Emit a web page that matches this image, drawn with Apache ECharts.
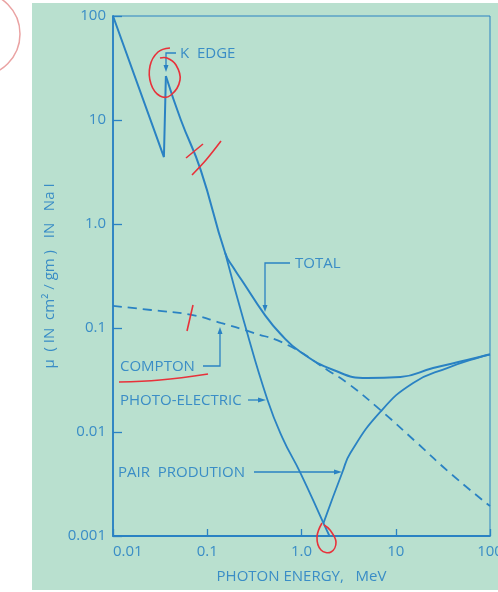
<!DOCTYPE html>
<html>
<head>
<meta charset="utf-8">
<script src="https://cdn.jsdelivr.net/npm/echarts/dist/echarts.min.js"></script>
<style>
	html, body { margin: 0; padding: 0; background: #ffffff; }
	#wrap { position: relative; width: 498px; height: 592px; overflow: hidden; }
	#paper { position: absolute; left: 32px; top: 3px; width: 466px; height: 587px; background: #b9e0cf; }
	#chart { position: absolute; left: 0; top: 0; width: 498px; height: 592px; }
</style>
</head>
<body>
<div id="wrap">
	<div id="paper"></div>
	<div id="chart"></div>
</div>
<script>
	// photon energy (MeV) and mass attenuation (cm2/gm)
	const totalEnergy = [0.01, 0.0347, 0.0364, 0.0525, 0.0853, 0.155, 0.1905, 0.243, 0.396, 0.600, 0.976, 2.18, 4.99, 11.2, 24.9, 57.1, 100];
	const totalMu = [100, 4.40, 26.5, 10.0, 3.30, 0.526, 0.377, 0.271, 0.139, 0.0875, 0.0588, 0.0395, 0.0330, 0.0338, 0.0412, 0.0492, 0.0560];

	const photoEnergy = [0.155, 0.243, 0.436, 0.630, 0.976, 1.71, 1.98];
	const photoMu = [0.526, 0.119, 0.0203, 0.00875, 0.00403, 0.00133, 0.001];

	const comptonEnergy = [0.01, 0.0253, 0.0703, 0.139, 0.288, 0.711, 1.88, 3.07, 6.85, 16.9, 37.7, 100];
	const comptonMu = [0.163, 0.149, 0.133, 0.112, 0.0916, 0.0687, 0.0395, 0.0296, 0.0163, 0.00783, 0.00403, 0.00194];

	const pairEnergy = [1.71, 2.72, 3.30, 6.85, 15.3, 35.1, 78.4, 100];
	const pairMu = [0.00133, 0.00412, 0.00628, 0.0156, 0.0296, 0.0412, 0.0526, 0.0555];

	const xTickLabels = ["0.01", "0.1", "1.0", "10", "100"];
	const yTickLabels = ["0.001", "0.01", "0.1", "1.0", "10", "100"];

	const blue = "#2a82c3";
	const textBlue = "#3a8dc6";
	const red = "#e8313a";
	const font = "'Open Sans', 'DejaVu Sans', sans-serif";

	const pairs = (xs, ys) => xs.map((x, i) => [x, ys[i]]);
	const totalData = pairs(totalEnergy, totalMu);

	const chart = echarts.init(document.getElementById("chart"), null, { renderer: "canvas" });

	// small blue leader with an arrow head
	const arrowHead = (x, y, dir) => {
		let pts;
		if (dir === "down") pts = [[x - 2.5, y - 7], [x + 2.5, y - 7], [x, y]];
		else if (dir === "up") pts = [[x - 2.5, y + 7], [x + 2.5, y + 7], [x, y]];
		else pts = [[x - 8, y - 2.5], [x - 8, y + 2.5], [x, y]];
		return { type: "polygon", shape: { points: pts }, style: { fill: blue }, z: 10 };
	};
	const leader = points => ({
		type: "polyline",
		shape: { points },
		style: { stroke: blue, lineWidth: 1.3, fill: null },
		z: 10
	});
	const label = (text, x, y) => ({
		type: "text",
		x, y,
		style: { text, fill: textBlue, font: "15px " + font, textVerticalAlign: "middle" },
		z: 10
	});
	const redStroke = (points, smooth) => ({
		type: "polyline",
		shape: { points, smooth: smooth || 0 },
		style: { stroke: red, lineWidth: 1.6, fill: null },
		z: 11
	});

	const graphics = [
		label("K  EDGE", 180, 54),
		leader([[176, 53], [166, 53], [166, 66]]),
		arrowHead(166, 72, "down"),

		label("TOTAL", 295, 264),
		leader([[290, 263], [265, 263], [265, 306]]),
		arrowHead(265, 312, "down"),

		label("COMPTON", 120, 367),
		leader([[203, 366], [220, 366], [220, 333]]),
		arrowHead(220, 327, "up"),

		label("PHOTO-ELECTRIC", 120, 401),
		leader([[248, 400], [260, 400]]),
		arrowHead(266, 400, "right"),

		label("PAIR  PRODUTION", 118, 473),
		leader([[254, 472], [336, 472]]),
		arrowHead(342, 472, "right"),

		// red pen marks on the scan
		redStroke([[170, 48], [158, 52], [150, 66], [151, 84], [160, 96], [171, 95], [180, 80], [176, 65], [167, 58], [160, 58]], 0.4),
		redStroke([[186, 158], [203, 144]]),
		redStroke([[192, 175], [206, 160], [221, 141]], 0.3),
		redStroke([[193, 305], [187, 331]]),
		redStroke([[119, 382], [160, 380], [208, 374]], 0.4),
		redStroke([[322, 523], [317, 537], [321, 550], [331, 552], [336, 542], [330, 530], [324, 525]], 0.4),
		{
			type: "arc",
			shape: { cx: -22, cy: 34, r: 42, startAngle: -Math.PI / 2, endAngle: Math.PI / 2 },
			style: { stroke: "#eaa3a3", lineWidth: 1.5, fill: null },
			z: 11
		}
	];

	const option = {
		backgroundColor: "transparent",
		animation: false,
		grid: {
			left: 113,
			right: 8,
			top: 16,
			bottom: 56,
			outerBoundsMode: "none",
			show: true,
			borderColor: blue,
			borderWidth: 1
		},
		xAxis: {
			type: "log",
			logBase: 10,
			min: 0.01,
			max: 100,
			name: "PHOTON ENERGY,   MeV",
			nameLocation: "middle",
			nameGap: 33,
			nameTextStyle: { color: textBlue, fontSize: 15, fontFamily: font },
			axisLine: { lineStyle: { color: blue, width: 1.8 } },
			axisTick: { inside: true, length: 7, lineStyle: { color: blue, width: 1.3 } },
			splitLine: { show: false },
			axisLabel: {
				color: textBlue,
				fontSize: 15,
				fontFamily: font,
				margin: 8,
				alignMinLabel: "left",
				formatter: v => xTickLabels[Math.round(Math.log10(v)) + 2]
			}
		},
		yAxis: {
			type: "log",
			logBase: 10,
			min: 0.001,
			max: 100,
			name: "μ  ( IN  cm² / gm )   IN   Na I",
			nameLocation: "middle",
			nameGap: 55,
			nameTextStyle: { color: textBlue, fontSize: 15, fontFamily: font },
			axisLine: { lineStyle: { color: blue, width: 1.8 } },
			axisTick: { inside: true, length: 9, lineStyle: { color: blue, width: 1.3 } },
			splitLine: { show: false },
			axisLabel: {
				color: textBlue,
				fontSize: 15,
				fontFamily: font,
				margin: 7,
				formatter: v => yTickLabels[Math.round(Math.log10(v)) + 3]
			}
		},
		series: [
			{
				name: "Total (below K edge)",
				type: "line",
				data: totalData.slice(0, 3),
				showSymbol: false,
				lineStyle: { color: blue, width: 2 }
			},
			{
				name: "Total",
				type: "line",
				data: totalData.slice(2),
				smooth: 0.5,
				showSymbol: false,
				lineStyle: { color: blue, width: 2 }
			},
			{
				name: "Photo-electric",
				type: "line",
				data: pairs(photoEnergy, photoMu),
				smooth: 0.5,
				showSymbol: false,
				lineStyle: { color: blue, width: 1.8 }
			},
			{
				name: "Compton",
				type: "line",
				data: pairs(comptonEnergy, comptonMu),
				smooth: 0.5,
				showSymbol: false,
				lineStyle: { color: blue, width: 1.8, type: [9, 6] }
			},
			{
				name: "Pair production",
				type: "line",
				data: pairs(pairEnergy, pairMu),
				smooth: 0.5,
				showSymbol: false,
				lineStyle: { color: blue, width: 1.8 }
			}
		],
		graphic: graphics
	};

	chart.setOption(option);
</script>
</body>
</html>
